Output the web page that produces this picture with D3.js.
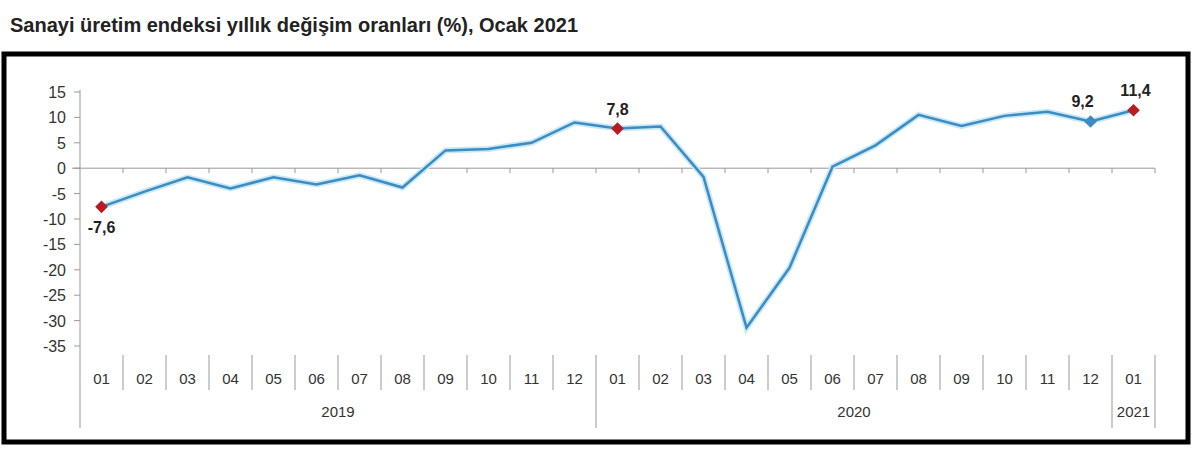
<!DOCTYPE html>
<html>
<head>
<style>
  body { margin: 0; background: #fff; }
  text { font-family: Arial, "Liberation Sans", sans-serif; }
</style>
</head>
<body>
<div id="chart"></div>
<script src="https://d3js.org/d3.v7.min.js"></script>
<script>
var months = ['01','02','03','04','05','06','07','08','09','10','11','12',
              '01','02','03','04','05','06','07','08','09','10','11','12','01'];
var years = [{label: '2019', start: 0, end: 12}, {label: '2020', start: 12, end: 24}, {label: '2021', start: 24, end: 25}];
var values = [-7.6, -4.6, -1.8, -4.0, -1.8, -3.2, -1.4, -3.8, 3.5, 3.8, 5.0, 9.0,
              7.8, 8.2, -1.7, -31.4, -19.6, 0.3, 4.5, 10.5, 8.3, 10.3, 11.1, 9.2, 11.4];
var yTicks = [15, 10, 5, 0, -5, -10, -15, -20, -25, -30, -35];
var labelled = [{i: 0, color: '#b81c22', dy: 26}, {i: 12, color: '#b81c22', dy: -14},
                {i: 23, color: '#3a8cc2', dy: -14, dx: -8}, {i: 24, color: '#b81c22', dy: -14, dx: 2}];

var W = 1200, H = 456;
var svg = d3.select('#chart').append('svg').attr('width', W).attr('height', H);

svg.append('text').attr('x', 10).attr('y', 32)
  .style('font-size', '20px').style('font-weight', 'bold').attr('fill', '#222')
  .text('Sanayi üretim endeksi  yıllık değişim oranları (%), Ocak 2021');

svg.append('rect').attr('x', 4).attr('y', 54).attr('width', 1184).attr('height', 388)
  .attr('fill', 'none').attr('stroke', '#000').attr('stroke-width', 5);

var x = d3.scaleBand().domain(d3.range(months.length)).range([80, 1155]);
var y = d3.scaleLinear().domain([-35, 15]).range([346, 92]);

// y axis
svg.append('line').attr('x1', 80).attr('x2', 80).attr('y1', 90).attr('y2', 428).attr('stroke', '#999');
yTicks.forEach(function(t) {
  svg.append('line').attr('x1', 74).attr('x2', 80).attr('y1', y(t)).attr('y2', y(t)).attr('stroke', '#999');
  svg.append('text').attr('x', 66).attr('y', y(t) + 6).attr('text-anchor', 'end')
    .style('font-size', '16px').attr('fill', '#333').text(t);
});

// zero line
svg.append('line').attr('x1', 72).attr('x2', 1155).attr('y1', y(0)).attr('y2', y(0)).attr('stroke', '#999');
d3.range(1, months.length + 1).forEach(function(i) {
  var xx = i < months.length ? x(i) : 1155;
  svg.append('line').attr('x1', xx).attr('x2', xx).attr('y1', y(0)).attr('y2', y(0) + 5).attr('stroke', '#999');
});

// category separators and labels
months.forEach(function(m, i) {
  svg.append('text').attr('x', x(i) + x.bandwidth() / 2).attr('y', 384).attr('text-anchor', 'middle')
    .style('font-size', '15px').attr('fill', '#333').text(m);
});
d3.range(1, months.length + 1).forEach(function(i) {
  var xx = i < months.length ? x(i) : 1155;
  var isYear = years.some(function(yr) { return yr.end === i; });
  svg.append('line').attr('x1', xx).attr('x2', xx).attr('y1', 355).attr('y2', isYear ? 428 : 390).attr('stroke', '#999');
});
years.forEach(function(yr) {
  var x0 = x(yr.start), x1 = yr.end < months.length ? x(yr.end) : 1155;
  svg.append('text').attr('x', (x0 + x1) / 2).attr('y', 417).attr('text-anchor', 'middle')
    .style('font-size', '15px').attr('fill', '#333').text(yr.label);
});

// line
var line = d3.line().x(function(d, i) { return x(i) + x.bandwidth() / 2; }).y(function(d) { return y(d); });
svg.append('path').datum(values).attr('d', line).attr('fill', 'none')
  .attr('stroke', '#c8e8f8').attr('stroke-width', 6);
svg.append('path').datum(values).attr('d', line).attr('fill', 'none')
  .attr('stroke', '#3a8cc2').attr('stroke-width', 2.5);

// markers & labels
labelled.forEach(function(p) {
  var cx = x(p.i) + x.bandwidth() / 2, cy = y(values[p.i]);
  svg.append('path').attr('d', d3.symbol().type(d3.symbolSquare).size(80)())
    .attr('transform', 'translate(' + cx + ',' + cy + ') rotate(45)').attr('fill', p.color);
  svg.append('text').attr('x', cx + (p.dx || 0)).attr('y', cy + p.dy).attr('text-anchor', 'middle')
    .style('font-size', '16px').style('font-weight', 'bold').attr('fill', '#222')
    .text(String(values[p.i]).replace('.', ','));
});
</script>
</body>
</html>
